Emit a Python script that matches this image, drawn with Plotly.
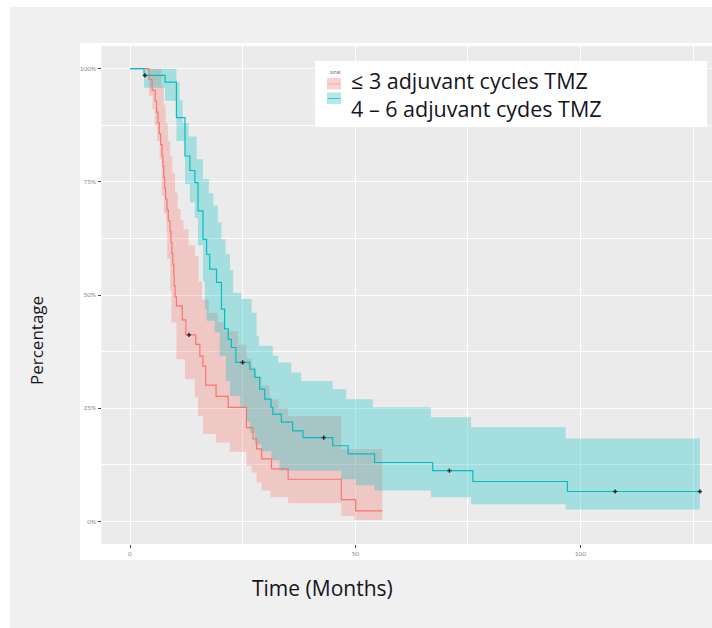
import plotly.graph_objects as go

W, H = 712, 628

# ---------------- data: <= 3 adjuvant cycles TMZ ----------------
le3_time = [0, 4.2, 4.9, 5.6, 5.9, 6.2, 6.5, 6.8, 7.1, 7.3, 7.5, 7.7, 7.9, 8.2, 8.5, 8.9,
            9.1, 9.3, 9.5, 9.7, 9.8, 10.0, 10.3, 11.6, 12.4, 14.6, 15.5, 16.2, 16.8, 19.1,
            21.8, 25.85, 27.3, 28.1, 29.2, 31.4, 35.1, 46.9, 50.1]
le3_surv = [100, 97.6, 95.2, 92.8, 90.4, 88.0, 85.6, 83.2, 80.8, 78.4, 76.0, 73.6, 71.2, 68.8,
            66.4, 64.0, 61.6, 59.2, 56.8, 54.4, 52.0, 49.6, 47.6, 44.5, 41.2, 39.1, 36.5, 34.3,
            30.1, 27.6, 25.2, 20.7, 18.2, 16.0, 13.8, 11.6, 9.3, 4.8, 2.3]
le3_end = 56.0
le3_upper_time = [0, 7.0, 7.5, 7.9, 8.4, 8.9, 9.4, 10.0, 10.6, 11.2, 11.9, 13.0, 14.4, 15.2,
                  16.0, 17.5, 19.5, 21.0, 24.0, 25.85, 27.0, 28.0, 29.2, 31.0, 33.0, 35.1, 46.9]
le3_upper = [100, 96, 92, 88, 84, 80.7, 77, 72.6, 69, 66.5, 64.5, 61, 58.6, 53, 49, 46, 44, 42,
             39, 36, 34, 32, 30, 27, 25, 23.3, 16]
le3_lower_time = [0, 4.2, 5.0, 5.5, 6.0, 6.6, 7.0, 7.5, 8.1, 8.25, 8.9, 9.2, 10.3, 12.2, 14.4,
                  15.1, 16.2, 19.05, 22.15, 25.85, 27.0, 28.1, 29.2, 31.2, 35.1, 46.9, 49.8]
le3_lower = [100, 94, 91, 87.5, 84, 80, 72, 68, 64, 58, 51, 43.9, 35.8, 31.4, 27.4, 23.3, 19.3,
             17.4, 15.4, 12.3, 10.8, 8.6, 6.8, 5.3, 4.0, 1.2, 0.3]
le3_cens_time = [13.1]
le3_cens_surv = [41.2]

# ---------------- data: 4 - 6 adjuvant cycles TMZ ----------------
g46_time = [0, 3.1, 7.8, 10.3, 12.2, 13.3, 14.4, 15.1, 16.2, 17.0, 17.7, 19.2, 20.3, 21.0,
            21.8, 22.5, 23.5, 26.6, 27.7, 28.8, 29.9, 31.3, 31.7, 33.6, 36.1, 38.4, 45.0,
            48.4, 54.3, 67.2, 76.1, 97.1]
g46_surv = [100, 98.5, 97.0, 89.2, 80.7, 77.5, 74.8, 68.6, 62.3, 59.0, 55.7, 52.8, 46.9, 42.5,
            40.2, 38.4, 35.1, 33.6, 31.8, 29.2, 27.0, 25.2, 23.7, 21.9, 20.0, 18.5, 16.7, 14.9,
            13.0, 11.2, 8.8, 6.6]
g46_end = 126.5
g46_upper_time = [0, 10.3, 11.0, 11.7, 13.0, 14.8, 16.2, 17.5, 18.5, 19.5, 20.3, 21.2, 22.2,
                  22.9, 24.7, 27.0, 28.1, 28.6, 31.7, 32.9, 35.8, 38.0, 45.0, 48.0, 53.9, 66.8,
                  75.7, 96.7]
g46_upper = [100, 97, 93, 88, 85, 80, 75.6, 72.5, 69.7, 66, 62.3, 59, 55.5, 50.5, 49.1, 46.1,
             41, 38.8, 36.6, 35.1, 32.9, 31, 29.2, 27, 25.2, 23, 20.8, 18.3]
g46_lower_time = [0, 3.1, 7.8, 10.3, 12.2, 13.3, 14.4, 15.1, 16.2, 16.6, 17.0, 18.8, 19.9,
                  21.3, 22.2, 24.5, 25.85, 26.6, 27.7, 29.2, 31.4, 33.2, 46.9, 50.1, 54.3,
                  66.8, 75.7, 96.7]
g46_lower = [100, 95.8, 92.9, 84, 74.5, 70.5, 67, 61, 53, 46.9, 44.3, 41.7, 36.6, 31, 27.7,
             25.2, 22, 19.5, 17, 15.5, 13.5, 11.2, 9.3, 8, 6.8, 5.3, 3.8, 2.6]
g46_cens_time = [3.3, 25.0, 43.0, 70.9, 107.7, 126.5]
g46_cens_surv = [98.5, 35.1, 18.5, 11.2, 6.6, 6.6]

x_ticks = [0, 50, 100]
y_ticks = [0, 25, 50, 75, 100]
y_tick_labels = ["0%", "25%", "50%", "75%", "100%"]
legend_labels = ["\u2264 3 adjuvant cycles TMZ", "4 \u2013 6 adjuvant cydes TMZ"]

RED = "#F8766D"
TEAL = "#00BFC4"
RED_FILL = "rgba(248,118,109,0.3)"
TEAL_FILL = "rgba(0,191,196,0.3)"
TEXT = "#15151f"
FONT = "Open Sans"


def ext(t, v, end):
    return list(t) + [end], list(v) + [v[-1]]


fig = go.Figure()

for (ut, uv, lt, lv, end, fc) in [
    (le3_upper_time, le3_upper, le3_lower_time, le3_lower, le3_end, RED_FILL),
    (g46_upper_time, g46_upper, g46_lower_time, g46_lower, g46_end, TEAL_FILL),
]:
    x1, y1 = ext(ut, uv, end)
    x2, y2 = ext(lt, lv, end)
    fig.add_trace(go.Scatter(x=x1, y=y1, mode="lines", line=dict(width=0, shape="hv"),
                             hoverinfo="skip", showlegend=False))
    fig.add_trace(go.Scatter(x=x2, y=y2, mode="lines", line=dict(width=0, shape="hv"),
                             fill="tonexty", fillcolor=fc, hoverinfo="skip", showlegend=False))

for (t, s, end, col) in [(le3_time, le3_surv, le3_end, RED), (g46_time, g46_surv, g46_end, TEAL)]:
    x, y = ext(t, s, end)
    fig.add_trace(go.Scatter(x=x, y=y, mode="lines", line=dict(width=1.2, color=col, shape="hv"),
                             hoverinfo="skip", showlegend=False))

fig.add_trace(go.Scatter(x=le3_cens_time + g46_cens_time, y=le3_cens_surv + g46_cens_surv,
                         mode="markers", marker=dict(symbol="cross", size=3.5, color="#222222"),
                         hoverinfo="skip", showlegend=False))


def px(x):
    return x / W


def py(y):
    return 1 - y / H


shapes = [
    dict(type="rect", xref="paper", yref="paper", x0=px(10), x1=1, y0=0, y1=py(7),
         fillcolor="#F0F0F0", line=dict(width=0), layer="below"),
    dict(type="rect", xref="paper", yref="paper", x0=px(80), x1=1, y0=py(560), y1=py(43),
         fillcolor="#FFFFFF", line=dict(width=0), layer="below"),
    dict(type="rect", xref="paper", yref="paper", x0=px(101.5), x1=1, y0=py(544), y1=py(46),
         fillcolor="#EBEBEB", line=dict(width=0), layer="below"),
    # legend box
    dict(type="rect", xref="paper", yref="paper", x0=px(315), x1=px(707), y0=py(127), y1=py(61),
         fillcolor="#FFFFFF", line=dict(width=0), layer="above"),
    # legend keys
    dict(type="rect", xref="paper", yref="paper", x0=px(327), x1=px(341), y0=py(89.5), y1=py(78),
         fillcolor="#F9D3D1", line=dict(width=0), layer="above"),
    dict(type="line", xref="paper", yref="paper", x0=px(327.5), x1=px(340.5), y0=py(84), y1=py(84),
         line=dict(color="#F4A9A3", width=1), layer="above"),
    dict(type="rect", xref="paper", yref="paper", x0=px(327), x1=px(341), y0=py(104), y1=py(92.5),
         fillcolor="#B3E8E9", line=dict(width=0), layer="above"),
    dict(type="line", xref="paper", yref="paper", x0=px(327.5), x1=px(340.5), y0=py(98.5), y1=py(98.5),
         line=dict(color="#33C9CD", width=1), layer="above"),
]

annotations = [
    dict(text="strat", x=px(328), y=py(72), xref="paper", yref="paper", xanchor="left",
         yanchor="middle", showarrow=False, font=dict(size=5, color="#555555", family=FONT)),
    dict(text="<br>".join(legend_labels), x=px(349), y=py(94.5), xref="paper", yref="paper",
         xanchor="left", yanchor="middle", align="left", showarrow=False,
         font=dict(size=21.5, color=TEXT, family=FONT)),
    dict(text="Percentage", x=px(36), y=py(341), xref="paper", yref="paper", xanchor="center",
         yanchor="middle", textangle=-90, showarrow=False,
         font=dict(size=17, color=TEXT, family=FONT)),
    dict(text="Time (Months)", x=px(322), y=py(588), xref="paper", yref="paper", xanchor="center",
         yanchor="middle", showarrow=False, font=dict(size=21, color=TEXT, family=FONT)),
]

fig.update_layout(
    width=W, height=H, margin=dict(l=0, r=0, t=0, b=0, pad=0),
    paper_bgcolor="#FFFFFF", plot_bgcolor="rgba(0,0,0,0)",
    shapes=shapes, annotations=annotations, showlegend=False,
    xaxis=dict(domain=[px(101.5), 1], range=[-6.33, 129.2], tickvals=x_ticks,
               ticktext=[str(v) for v in x_ticks], showgrid=True, gridcolor="#FFFFFF",
               gridwidth=1.1, zeroline=False, showline=False, ticks="outside", ticklen=3,
               tickwidth=0.6, tickcolor="#444444",
               tickfont=dict(size=6.5, color="#8a8a8a", family="Lato"),
               minor=dict(tickvals=[25, 75, 125], showgrid=True, gridcolor="#FFFFFF",
                          gridwidth=0.5, ticks="")),
    yaxis=dict(domain=[py(544), py(46)], range=[-5, 105], tickvals=y_ticks,
               ticktext=y_tick_labels, showgrid=True, gridcolor="#FFFFFF", gridwidth=1.1,
               zeroline=False, showline=False, ticks="outside", ticklen=3, tickwidth=0.6,
               tickcolor="#444444", tickfont=dict(size=6.5, color="#8a8a8a", family="Lato"),
               minor=dict(tickvals=[12.5, 37.5, 62.5, 87.5], showgrid=True,
                          gridcolor="#FFFFFF", gridwidth=0.5, ticks="")),
)

fig.write_html("out.html", config={"displayModeBar": False},
               post_script="document.body.style.margin='0';document.body.style.overflow='hidden';")
